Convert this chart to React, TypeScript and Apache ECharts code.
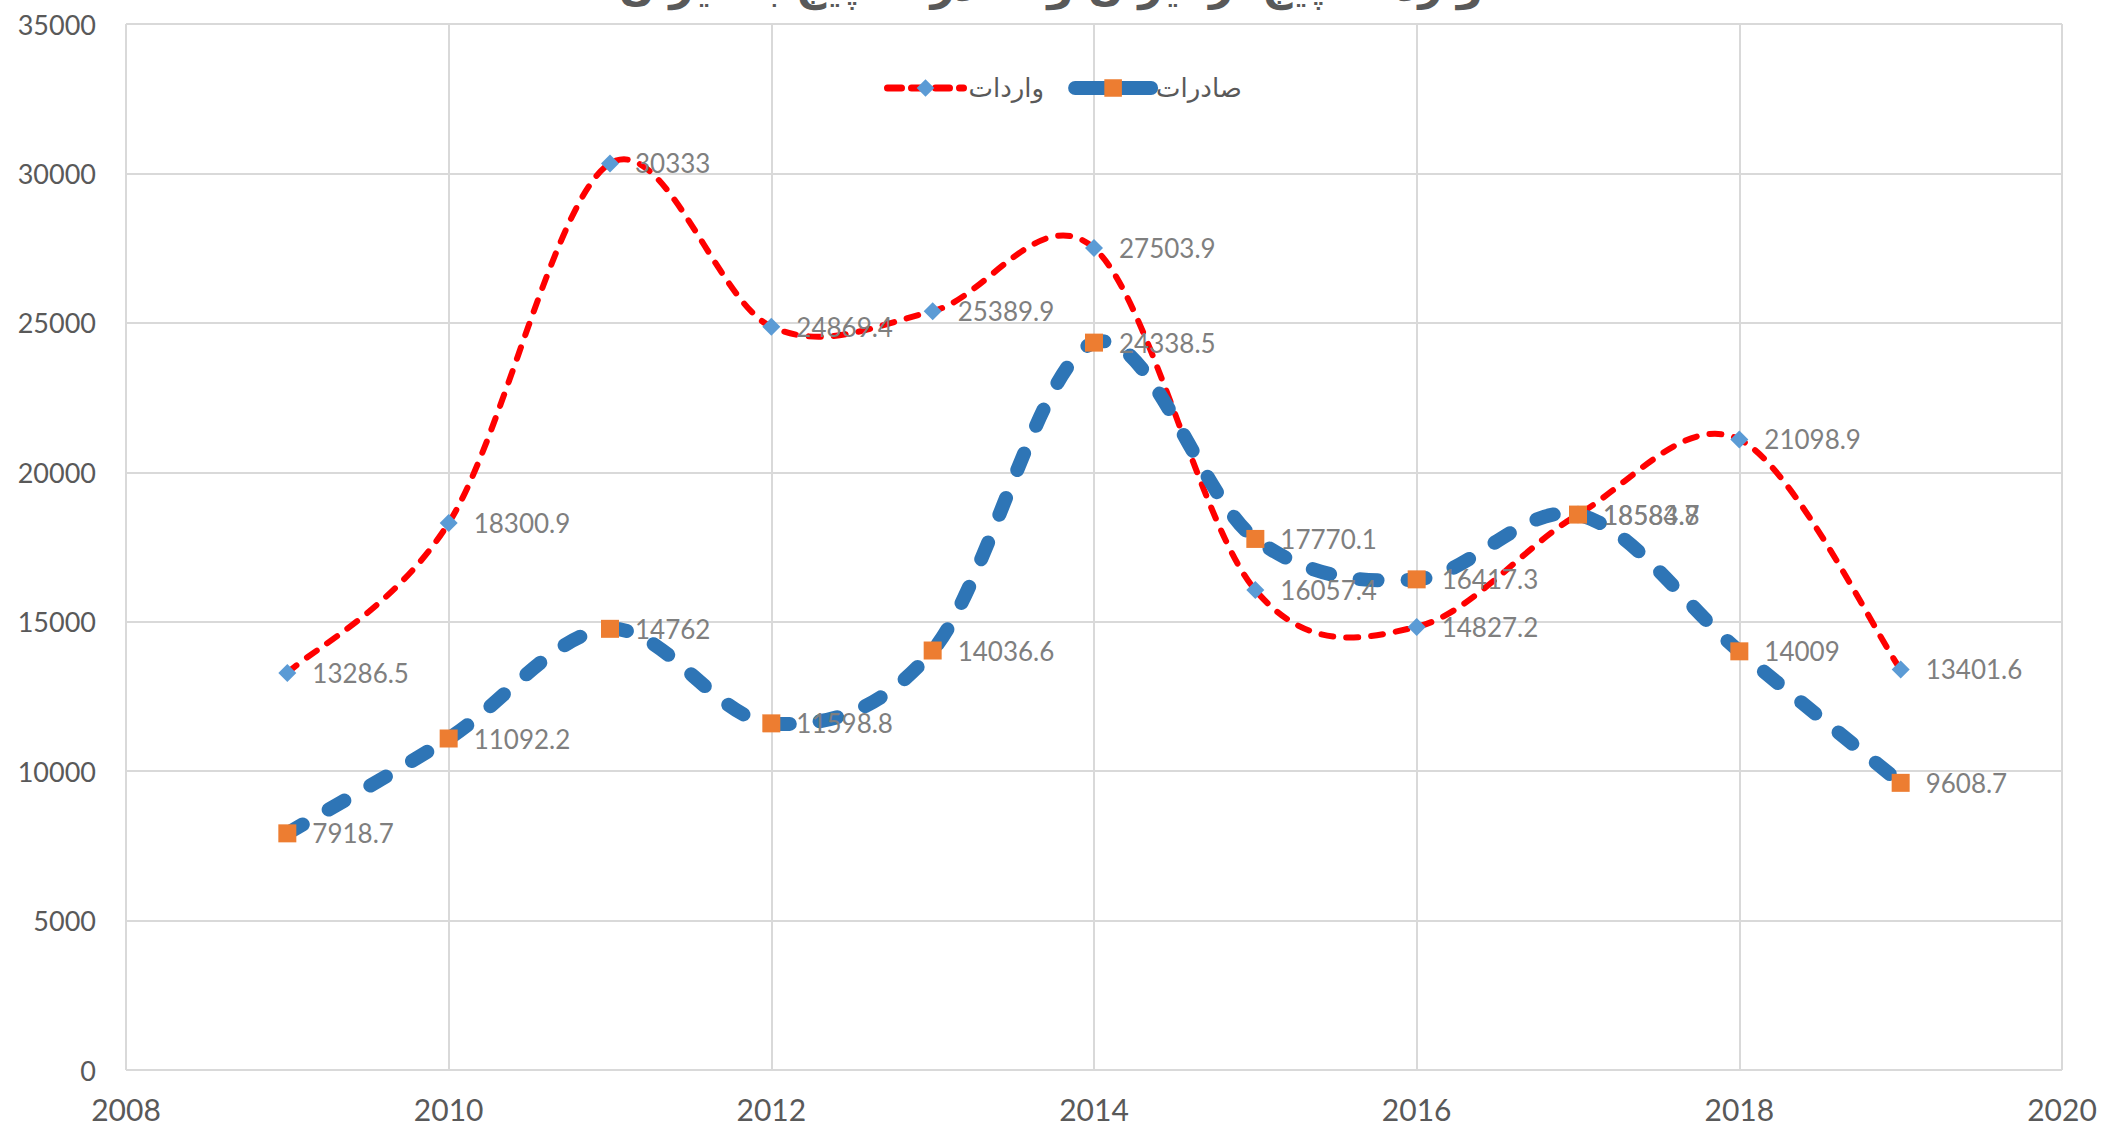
import React, { useEffect, useRef } from "react";
import * as echarts from "echarts";

const years = [2009, 2010, 2011, 2012, 2013, 2014, 2015, 2016, 2017, 2018, 2019];
const importsValues = [13286.5, 18300.9, 30333, 24869.4, 25389.9, 27503.9, 16057.4, 14827.2, 18583.7, 21098.9, 13401.6];
const exportsValues = [7918.7, 11092.2, 14762, 11598.8, 14036.6, 24338.5, 17770.1, 16417.3, 18584.8, 14009, 9608.7];
const importsName = "واردات";
const exportsName = "صادرات";
const titleText = "واردات پیچ از ایران و صادرات پیچ به ایران";

const IMPORT_LINE = "#FF0000";
const EXPORT_LINE = "#2E75B6";

function smoothPath(pts: number[][]): string {
  if (!pts.length) return "";
  let d = `M${pts[0][0]},${pts[0][1]}`;
  for (let i = 0; i < pts.length - 1; i++) {
    const p0 = pts[i - 1] || pts[i];
    const p1 = pts[i];
    const p2 = pts[i + 1];
    const p3 = pts[i + 2] || pts[i + 1];
    const c1x = p1[0] + (p2[0] - p0[0]) / 6;
    const c1y = p1[1] + (p2[1] - p0[1]) / 6;
    const c2x = p2[0] - (p3[0] - p1[0]) / 6;
    const c2y = p2[1] - (p3[1] - p1[1]) / 6;
    d += ` C${c1x},${c1y} ${c2x},${c2y} ${p2[0]},${p2[1]}`;
  }
  return d;
}

function curveSeries(values: number[], color: string, width: number, dash: number[], z: number) {
  return {
    type: "custom",
    data: [0],
    z,
    silent: true,
    renderItem: (_params: any, api: any) => {
      const pts = years.map((y, i) => api.coord([y, values[i]]));
      return {
        type: "path",
        shape: { pathData: smoothPath(pts) },
        style: {
          fill: "none",
          stroke: color,
          lineWidth: width,
          lineDash: dash,
          lineCap: "round",
          lineJoin: "round",
        },
      };
    },
  };
}

export default function App() {
  const ref = useRef<HTMLDivElement>(null);
  useEffect(() => {
    if (!ref.current) return;
    const chart = echarts.init(ref.current, undefined, { renderer: "svg" });
    const labelStyle = {
      show: true,
      position: "right" as const,
      distance: 16,
      color: "#7F7F7F",
      fontSize: 26,
      fontFamily: "Lato",
    };
    chart.setOption({
      animation: false,
      backgroundColor: "#ffffff",
      title: {
        text: titleText,
        left: 1046,
        textAlign: "center",
        top: -41,
        textStyle: { fontFamily: "DejaVu Sans", fontSize: 42, fontWeight: "bold", color: "#595959" },
      },
      legend: {
        left: 879,
        top: 70,
        itemWidth: 76,
        itemHeight: 22,
        itemGap: 24,
        textStyle: { fontFamily: "DejaVu Sans", fontSize: 26, color: "#595959" },
        data: [
          {
            name: importsName,
            lineStyle: { color: IMPORT_LINE, width: 7, type: [14, 10], cap: "round", opacity: 1 },
          },
          {
            name: exportsName,
            lineStyle: { color: EXPORT_LINE, width: 14, type: "solid", cap: "round", opacity: 1 },
          },
        ],
      },
      grid: { left: 126, right: 41, top: 24, bottom: 57, containLabel: false },
      xAxis: {
        type: "value",
        min: 2008,
        max: 2020,
        interval: 2,
        axisLine: { show: false },
        axisTick: { show: false },
        splitLine: { show: true, lineStyle: { color: "#D9D9D9", width: 2 } },
        axisLabel: {
          margin: 24,
          fontFamily: "Lato",
          fontSize: 30,
          color: "#595959",
          formatter: (v: number) => String(v),
        },
      },
      yAxis: {
        type: "value",
        min: 0,
        max: 35000,
        interval: 5000,
        axisLine: { show: false },
        axisTick: { show: false },
        splitLine: { show: true, lineStyle: { color: "#D9D9D9", width: 2 } },
        axisLabel: {
          margin: 30,
          fontFamily: "Lato",
          fontSize: 27,
          color: "#595959",
          formatter: (v: number) => String(v),
        },
      },
      series: [
        curveSeries(importsValues, IMPORT_LINE, 6, [12, 13], 1),
        curveSeries(exportsValues, EXPORT_LINE, 14, [18, 30], 2),
        {
          name: importsName,
          type: "line",
          data: years.map((y, i) => [y, importsValues[i]]),
          symbol: "diamond",
          symbolSize: 18,
          itemStyle: { color: "#5B9BD5" },
          lineStyle: { color: IMPORT_LINE, width: 6, opacity: 0 },
          label: labelStyle,
          z: 3,
        },
        {
          name: exportsName,
          type: "line",
          data: years.map((y, i) => [y, exportsValues[i]]),
          symbol: "rect",
          symbolSize: 18,
          itemStyle: { color: "#ED7D31" },
          lineStyle: { color: EXPORT_LINE, width: 14, opacity: 0 },
          label: labelStyle,
          z: 4,
        },
      ],
    });
    return () => chart.dispose();
  }, []);
  return (
    <div
      ref={ref}
      style={{ position: "fixed", left: 0, top: 0, width: 2103, height: 1127, background: "#fff" }}
    />
  );
}
